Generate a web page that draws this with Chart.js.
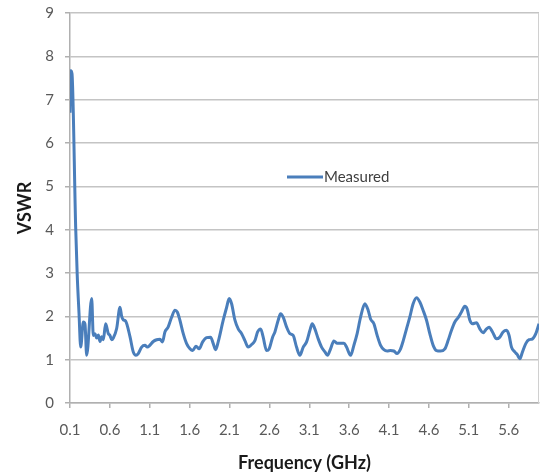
<!DOCTYPE html>
<html>
<head>
<meta charset="utf-8">
<script src="https://cdn.jsdelivr.net/npm/chart.js@4.4.0/dist/chart.umd.min.js"></script>
<style>
    html, body { margin: 0; padding: 0; background: #ffffff; }
    #wrap { width: 540px; height: 474px; }
</style>
</head>
<body>
<div id="wrap"><canvas id="vswrChart" width="540" height="474"></canvas></div>
<script>
// values
const freqGHz = [
    0.10, 0.11, 0.125, 0.171, 0.19, 0.213, 0.234, 0.267, 0.288, 0.309,
    0.372, 0.392, 0.413, 0.434, 0.455, 0.476, 0.497, 0.518, 0.547, 0.58,
    0.601, 0.622, 0.643, 0.685, 0.727, 0.748, 0.768, 0.798, 0.852, 0.893,
    0.927, 0.956, 0.998, 1.04, 1.069, 1.10, 1.144, 1.186, 1.228, 1.26,
    1.29, 1.33, 1.374, 1.416, 1.445, 1.478, 1.52, 1.562, 1.604, 1.638,
    1.679, 1.72, 1.763, 1.813, 1.863, 1.896, 1.925, 1.958, 2.021, 2.064,
    2.096, 2.126, 2.168, 2.209, 2.252, 2.293, 2.334, 2.377, 2.418, 2.452,
    2.49, 2.522, 2.564, 2.597, 2.64, 2.669, 2.71, 2.74, 2.773, 2.816,
    2.857, 2.898, 2.94, 2.982, 3.024, 3.066, 3.108, 3.137, 3.17, 3.212,
    3.254, 3.296, 3.329, 3.367, 3.408, 3.45, 3.492, 3.534, 3.567, 3.618,
    3.659, 3.70, 3.743, 3.797, 3.838, 3.868, 3.91, 3.951, 3.994, 4.035,
    4.076, 4.118, 4.16, 4.20, 4.24, 4.28, 4.319, 4.36, 4.402, 4.445,
    4.486, 4.527, 4.57, 4.611, 4.653, 4.695, 4.745, 4.80, 4.84, 4.883,
    4.925, 4.966, 5.008, 5.05, 5.079, 5.113, 5.147, 5.196, 5.238, 5.279,
    5.322, 5.355, 5.397, 5.447, 5.489, 5.53, 5.572, 5.605, 5.635, 5.676,
    5.706, 5.739, 5.773, 5.814, 5.856, 5.899, 5.94, 5.98
];
const vswrMeasured = [
    6.70, 7.67, 7.60, 4.06, 2.98, 2.07, 1.29, 1.87, 1.82, 1.10,
    2.41, 1.56, 1.60, 1.50, 1.57, 1.42, 1.53, 1.46, 1.83, 1.60,
    1.56, 1.46, 1.50, 1.72, 2.21, 2.00, 1.92, 1.89, 1.53, 1.18,
    1.10, 1.14, 1.29, 1.33, 1.29, 1.33, 1.42, 1.46, 1.47, 1.41,
    1.64, 1.75, 1.98, 2.14, 2.10, 1.91, 1.60, 1.37, 1.25, 1.21,
    1.31, 1.25, 1.41, 1.51, 1.52, 1.37, 1.23, 1.41, 1.91, 2.21,
    2.41, 2.29, 1.91, 1.71, 1.60, 1.44, 1.29, 1.35, 1.44, 1.64,
    1.71, 1.52, 1.21, 1.25, 1.52, 1.64, 1.91, 2.06, 1.98, 1.75,
    1.60, 1.56, 1.29, 1.10, 1.29, 1.41, 1.68, 1.83, 1.71, 1.48,
    1.29, 1.18, 1.10, 1.25, 1.43, 1.38, 1.38, 1.38, 1.29, 1.10,
    1.33, 1.60, 1.98, 2.29, 2.14, 1.94, 1.83, 1.56, 1.33, 1.23,
    1.20, 1.21, 1.20, 1.14, 1.23, 1.45, 1.71, 1.98, 2.29, 2.43,
    2.33, 2.14, 1.91, 1.60, 1.33, 1.21, 1.20, 1.25, 1.44, 1.68,
    1.87, 1.97, 2.10, 2.23, 2.17, 1.91, 1.83, 1.85, 1.71, 1.62,
    1.71, 1.75, 1.64, 1.48, 1.52, 1.64, 1.68, 1.56, 1.29, 1.18,
    1.12, 1.02, 1.18, 1.37, 1.46, 1.48, 1.60, 1.83
];
const xTickLabels = [0.1, 0.6, 1.1, 1.6, 2.1, 2.6, 3.1, 3.6, 4.1, 4.6, 5.1, 5.6];
const seriesName = 'Measured';

const lineColor = '#4a7ebb';
const gridColor = '#c4c4c4';
const axisColor = '#b0b0b0';
const tickColor = '#595959';

// legend sits inside the plot, and the plot has a thin right border
const plotExtras = {
    id: 'plotExtras',
    beforeDatasetsDraw(chart) {
        const { ctx, chartArea } = chart;
        ctx.save();
        ctx.strokeStyle = '#d0d0d0';
        ctx.lineWidth = 1;
        ctx.beginPath();
        ctx.moveTo(chartArea.right - 0.5, chartArea.top);
        ctx.lineTo(chartArea.right - 0.5, chartArea.bottom);
        ctx.stroke();
        ctx.restore();
    },
    afterDatasetsDraw(chart) {
        const { ctx, chartArea } = chart;
        const x0 = chartArea.left + 217;
        const y0 = chartArea.top + 164;
        ctx.save();
        ctx.strokeStyle = lineColor;
        ctx.lineWidth = 3;
        ctx.beginPath();
        ctx.moveTo(x0, y0);
        ctx.lineTo(x0 + 36, y0);
        ctx.stroke();
        ctx.fillStyle = '#404040';
        ctx.font = '15px Lato';
        ctx.textBaseline = 'middle';
        ctx.fillText(chart.data.datasets[0].label, x0 + 37, y0);
        ctx.restore();
    }
};

const ctx = document.getElementById('vswrChart').getContext('2d');
new Chart(ctx, {
    type: 'line',
    data: {
        datasets: [{
            label: seriesName,
            data: freqGHz.map((f, i) => ({ x: f, y: vswrMeasured[i] })),
            borderColor: lineColor,
            backgroundColor: lineColor,
            borderWidth: 3,
            pointRadius: 0,
            fill: false,
            cubicInterpolationMode: 'monotone'
        }]
    },
    options: {
        responsive: false,
        animation: false,
        layout: { padding: { top: 13, right: 1, left: 0, bottom: 0 } },
        plugins: {
            legend: { display: false },
            tooltip: { enabled: false }
        },
        scales: {
            x: {
                type: 'linear',
                min: 0.1,
                max: 5.98,
                afterBuildTicks: (scale) => {
                    scale.ticks = xTickLabels.map(v => ({ value: v }));
                },
                afterFit: (scale) => { scale.height = 71; },
                ticks: {
                    color: tickColor,
                    font: { family: 'Lato', size: 15 },
                    padding: 13,
                    maxRotation: 0,
                    autoSkip: false,
                    callback: (v) => Number(v).toFixed(1)
                },
                grid: { drawOnChartArea: false, drawTicks: true, tickLength: 5, color: axisColor, lineWidth: 1.5 },
                border: { color: axisColor, width: 1.5 },
                title: {
                    display: true,
                    text: 'Frequency (GHz)',
                    color: '#1a1a1a',
                    font: { family: 'Lato', size: 18, weight: 'bold' },
                    padding: { top: 0, bottom: 0 }
                }
            },
            y: {
                min: 0,
                max: 9,
                afterFit: (scale) => {
                    scale.width = 70;
                    scale.paddingTop = 0;
                    scale.paddingBottom = 0;
                },
                ticks: {
                    stepSize: 1,
                    color: tickColor,
                    font: { family: 'Lato', size: 15 },
                    padding: 11
                },
                grid: { color: gridColor, lineWidth: 1.5, tickLength: 5, tickColor: axisColor },
                border: { color: axisColor, width: 1.5 },
                title: {
                    display: true,
                    text: 'VSWR',
                    color: '#1a1a1a',
                    font: { family: 'Lato', size: 18, weight: 'bold' },
                    padding: { top: 14, bottom: 0 }
                }
            }
        }
    },
    plugins: [plotExtras]
});
</script>
</body>
</html>
